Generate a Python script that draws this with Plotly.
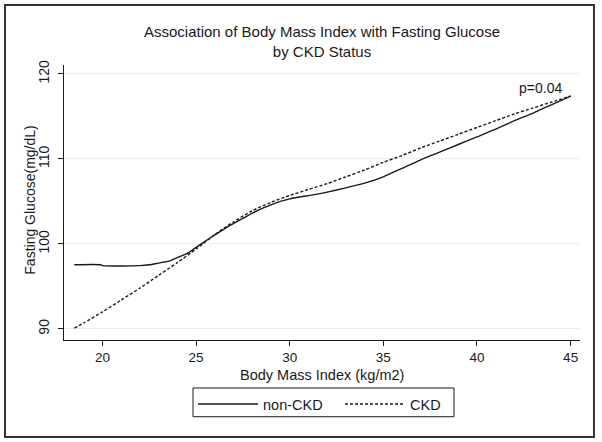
import plotly.graph_objects as go

# non-CKD curve (solid)
bmi_non_ckd = [18.5, 19.9, 20.0, 22.0, 22.5, 23.0, 23.6, 24.0, 24.5, 25.0, 25.75, 26.6,
               27.5, 28.25, 29.0, 29.5, 30.0, 31.3, 32.0, 33.0, 34.0, 35.0, 36.0, 37.0,
               38.0, 39.0, 40.0, 41.0, 42.0, 43.0, 44.0, 45.0]
glu_non_ckd = [97.55, 97.55, 97.45, 97.45, 97.55, 97.75, 98.0, 98.4, 98.85, 99.6, 100.7, 101.9,
               103.0, 103.9, 104.6, 105.0, 105.3, 105.8, 106.1, 106.6, 107.15, 107.9, 108.9, 109.9,
               110.8, 111.7, 112.6, 113.5, 114.5, 115.4, 116.4, 117.4]

# CKD curve (dashed)
bmi_ckd = [18.5, 19.0, 20.0, 21.0, 22.0, 23.0, 24.0, 25.0, 26.0, 27.0, 28.0, 29.0, 30.0,
           31.0, 32.0, 33.0, 34.0, 35.0, 36.0, 37.0, 38.0, 39.0, 40.0, 41.0, 42.0, 43.0,
           44.0, 45.0]
glu_ckd = [90.1, 90.7, 92.0, 93.4, 94.8, 96.3, 97.8, 99.4, 101.1, 102.6, 103.9, 104.9, 105.7,
           106.4, 107.1, 107.9, 108.7, 109.6, 110.4, 111.3, 112.1, 112.9, 113.7, 114.5, 115.3, 116.0,
           116.7, 117.4]

x_ticks = [20, 25, 30, 35, 40, 45]
y_ticks = [90, 100, 110, 120]

FONT = "Liberation Sans, Arial, sans-serif"
INK = "#1a1a1a"

fig = go.Figure()
fig.add_trace(go.Scatter(x=bmi_non_ckd, y=glu_non_ckd, mode="lines", name="non-CKD",
                         line=dict(color=INK, width=1.4, shape="spline", smoothing=0.6)))
fig.add_trace(go.Scatter(x=bmi_ckd, y=glu_ckd, mode="lines", name="CKD",
                         line=dict(color=INK, width=1.4, dash="3px,2px", shape="spline", smoothing=0.6)))

fig.add_annotation(text="p=0.04", x=44.65, y=118.4, xanchor="right", yanchor="middle",
                   showarrow=False, font=dict(size=14, color=INK))

# axis titles
fig.add_annotation(text="Fasting Glucose(mg/dL)", xref="paper", yref="paper", x=-0.066, y=0.51,
                   xanchor="center", yanchor="middle", textangle=-90, showarrow=False,
                   font=dict(size=14, color=INK))
fig.add_annotation(text="Body Mass Index (kg/m2)", xref="paper", yref="paper", x=0.5, y=-0.127,
                   xanchor="center", yanchor="middle", showarrow=False,
                   font=dict(size=14.5, color=INK))

# outer frame and legend frame
fig.add_shape(type="rect", xref="paper", yref="paper", x0=-0.1143, x1=1.0271, y0=-0.3527, y1=1.218,
              line=dict(color="#333", width=2))
fig.add_shape(type="rect", xref="paper", yref="paper", x0=0.25, x1=0.7558, y0=-0.279, y1=-0.1745,
              line=dict(color=INK, width=1))

fig.update_layout(
    template="none",
    width=602, height=442,
    margin=dict(l=64, r=22, t=65, b=102, autoexpand=False),
    paper_bgcolor="white", plot_bgcolor="white",
    font=dict(family=FONT, size=13, color=INK),
    title=dict(text="Association of Body Mass Index with Fasting Glucose<br>by CKD Status",
               x=0.5, xref="paper", xanchor="center", y=1 - 37 / 442, yref="container",
               yanchor="middle", font=dict(size=15, color=INK)),
    showlegend=True,
    legend=dict(orientation="h", x=0.25, xanchor="left", xref="paper", y=-0.175, yanchor="top",
                borderwidth=0, font=dict(size=14.5), itemwidth=60,
                entrywidth=72, tracegroupgap=0, bgcolor="rgba(0,0,0,0)"),
)
fig.update_xaxes(range=[17.95, 45.5], tickvals=x_ticks, showgrid=False, zeroline=False,
                 showline=True, linecolor=INK, linewidth=1, ticks="outside", ticklen=5,
                 tickcolor=INK, tickfont=dict(size=13.5), automargin=False)
fig.update_yaxes(range=[88.7, 121.05], tickvals=y_ticks, showgrid=True, gridcolor="#e6efef",
                 gridwidth=1, zeroline=False, showline=True, linecolor=INK, linewidth=1,
                 ticks="outside", ticklen=5, tickcolor=INK, tickangle=-90, tickfont=dict(size=14),
                 ticklabelstandoff=3, automargin=False)

fig.write_html("out.html", config={"displayModeBar": False},
               post_script="document.body.style.margin='0';")
